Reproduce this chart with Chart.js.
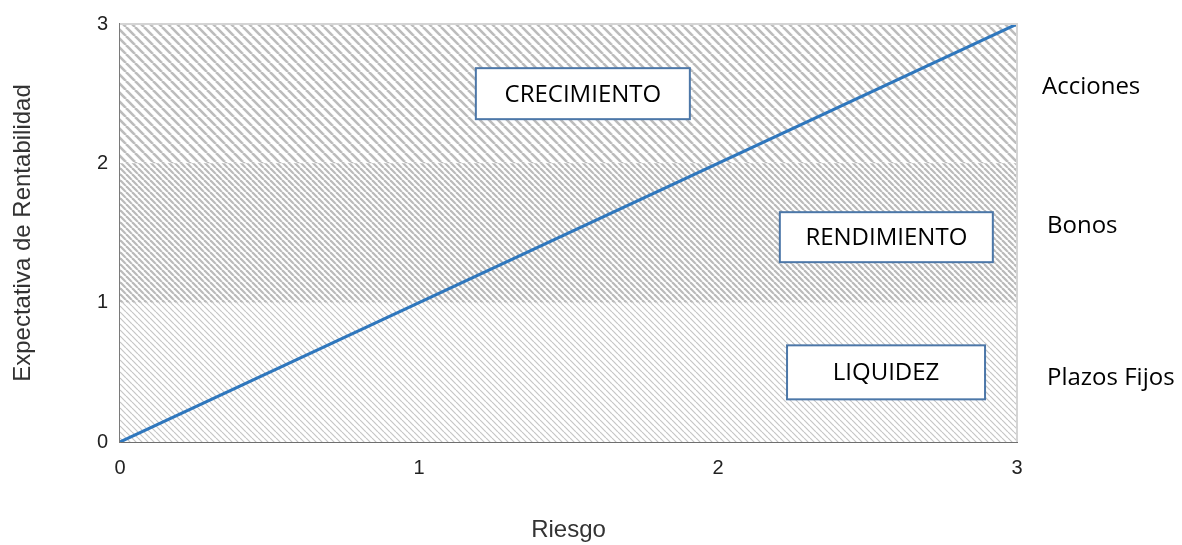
<!DOCTYPE html>
<html>
<head>
<meta charset="utf-8">
<script src="https://cdn.jsdelivr.net/npm/chart.js@4.4.0/dist/chart.umd.min.js"></script>
<style>
  html, body { margin: 0; background: #fff; }
  #wrap { width: 1182px; height: 545px; position: relative; }
</style>
</head>
<body>
<div id="wrap"><canvas id="riskChart"></canvas></div>
<script>
// data
const riskValues = [0, 3];          // x: Riesgo
const returnValues = [0, 3];        // y: Expectativa de Rentabilidad
const bandEdgeX = [0, 3];
const bandTops = [1, 2, 3];
const bandLabels = ['Plazos Fijos', 'Bonos', 'Acciones'];
const zoneLabels = ['LIQUIDEZ', 'RENDIMIENTO', 'CRECIMIENTO'];
const tickValues = [0, 1, 2, 3];

// where the annotation boxes sit, in axis units
const zoneBoxes = [
    { x: 2.562, y: 0.50, w: 198, h: 54 },
    { x: 2.563, y: 1.47, w: 213, h: 50 },
    { x: 1.548, y: 2.50, w: 214, h: 51 },
];
const bandLabelY = [0.46, 1.55, 2.55];

function hatch(step, width, color) {
    const c = document.createElement('canvas');
    c.width = step;
    c.height = step;
    const g = c.getContext('2d');
    g.strokeStyle = color;
    g.lineWidth = width;
    for (const k of [-step, 0, step]) {
        g.beginPath();
        g.moveTo(k, 0);
        g.lineTo(k + step, step);
        g.stroke();
    }
    return g.createPattern(c, 'repeat');
}

const bandPatterns = [
    hatch(6, 1.2, '#c6c6c6'),
    hatch(6, 2.2, '#bababa'),
    hatch(9, 2.6, '#bcbcbc'),
];

const bandDatasets = bandTops.map((top, i) => ({
    label: bandLabels[i],
    data: bandEdgeX.map(x => ({ x, y: top })),
    borderWidth: 0,
    pointRadius: 0,
    backgroundColor: bandPatterns[i],
    fill: i === 0 ? 'origin' : '-1',
    order: 2,
}));

const annotations = {
    id: 'annotations',
    beforeDatasetsDraw(chart) {
        const { ctx, chartArea: a } = chart;
        ctx.save();
        ctx.fillStyle = '#ffffff';
        ctx.fillRect(a.left, a.top, a.right - a.left, a.bottom - a.top);
        ctx.restore();
    },
    afterDatasetsDraw(chart) {
        const { ctx, chartArea: a, scales } = chart;
        ctx.save();
        // light frame on top and right
        ctx.strokeStyle = '#d4d4d4';
        ctx.lineWidth = 2;
        ctx.beginPath();
        ctx.moveTo(a.left, a.top);
        ctx.lineTo(a.right, a.top);
        ctx.lineTo(a.right, a.bottom);
        ctx.stroke();

        ctx.font = '24px "Open Sans"';
        ctx.textAlign = 'center';
        ctx.textBaseline = 'middle';
        zoneBoxes.forEach((b, i) => {
            const cx = scales.x.getPixelForValue(b.x);
            const cy = scales.y.getPixelForValue(b.y);
            ctx.fillStyle = '#ffffff';
            ctx.fillRect(cx - b.w / 2, cy - b.h / 2, b.w, b.h);
            ctx.strokeStyle = '#4c77a8';
            ctx.lineWidth = 2;
            ctx.strokeRect(cx - b.w / 2, cy - b.h / 2, b.w, b.h);
            ctx.fillStyle = '#000000';
            ctx.fillText(zoneLabels[i], cx, cy + 1);
        });

        ctx.textAlign = 'left';
        bandLabels.forEach((t, i) => {
            ctx.fillStyle = '#000000';
            ctx.fillText(t, a.right + (i === 2 ? 25 : 30), scales.y.getPixelForValue(bandLabelY[i]));
        });
        ctx.restore();
    },
};

new Chart(document.getElementById('riskChart'), {
    type: 'line',
    data: {
        datasets: [
            ...bandDatasets,
            {
                label: 'Riesgo / Rentabilidad',
                data: riskValues.map((x, i) => ({ x, y: returnValues[i] })),
                borderColor: '#2f77bd',
                borderWidth: 3,
                pointRadius: 0,
                fill: false,
                order: 1,
            },
        ],
    },
    options: {
        responsive: true,
        maintainAspectRatio: false,
        animation: false,
        layout: { padding: { left: 0, right: 165, top: 22, bottom: 0 } },
        plugins: { legend: { display: false }, tooltip: { enabled: false } },
        scales: {
            x: {
                type: 'linear',
                min: 0,
                max: 3,
                afterFit: (s) => { s.height = 103; },
                afterBuildTicks: (s) => { s.ticks = tickValues.map(v => ({ value: v })); },
                grid: { display: false, drawTicks: false },
                border: { display: true, color: '#6f6f6f', width: 2 },
                ticks: {
                    padding: 14,
                    color: '#222',
                    font: { family: '"Liberation Sans", Arial', size: 20 },
                    maxRotation: 0,
                },
                title: {
                    display: true,
                    text: 'Riesgo',
                    color: '#333',
                    font: { family: '"Liberation Sans", Arial', size: 24 },
                    padding: { top: 0, bottom: 0 },
                },
            },
            y: {
                type: 'linear',
                min: 0,
                max: 3,
                afterFit: (s) => { s.width = 120; },
                afterBuildTicks: (s) => { s.ticks = tickValues.map(v => ({ value: v })); },
                grid: { display: false, drawTicks: false },
                border: { display: true, color: '#7a7a7a', width: 2 },
                ticks: {
                    padding: 12,
                    color: '#222',
                    font: { family: '"Liberation Sans", Arial', size: 20 },
                },
                title: {
                    display: true,
                    text: 'Expectativa de Rentabilidad',
                    color: '#333',
                    font: { family: '"Liberation Sans", Arial', size: 24 },
                    padding: { top: 9, bottom: 0 },
                },
            },
        },
    },
    plugins: [annotations],
});
</script>
</body>
</html>
